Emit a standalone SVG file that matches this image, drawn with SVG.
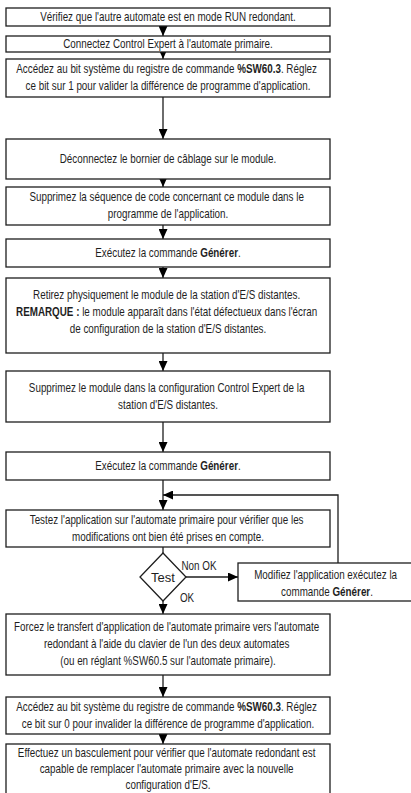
<svg xmlns="http://www.w3.org/2000/svg" width="411" height="793" viewBox="0 0 411 793">
  <style>
    .box { fill: #fff; stroke: #1e1e1e; stroke-width: 1.3; }
    .t { font-family: "Liberation Sans", Arial, sans-serif; font-size: 12px; fill: #1e1e1e; text-anchor: middle; }
    .b { font-weight: bold; }
    .conn { fill: none; stroke: #1e1e1e; stroke-width: 1.3; }
    .arr { marker-end: url(#head); }
  </style>
  <defs>
    <marker id="head" viewBox="0 0 10 10" refX="10" refY="5" markerWidth="10" markerHeight="9" markerUnits="userSpaceOnUse" orient="auto" preserveAspectRatio="none">
      <path d="M0,0 L10,5 L0,10 z" fill="#000"/>
    </marker>
  </defs>
  <rect width="411" height="793" fill="#fff"/>

  <!-- connectors -->
  <g id="connectors">
    <line class="conn arr" x1="163" y1="26" x2="163" y2="36"/>
    <line class="conn arr" x1="163" y1="52" x2="163" y2="59"/>
    <line class="conn arr" x1="163" y1="97" x2="163" y2="139"/>
    <line class="conn arr" x1="163" y1="179" x2="163" y2="187"/>
    <line class="conn arr" x1="163" y1="225" x2="163" y2="239"/>
    <line class="conn arr" x1="163" y1="267" x2="163" y2="278"/>
    <line class="conn arr" x1="163" y1="353" x2="163" y2="371"/>
    <line class="conn arr" x1="163" y1="422" x2="163" y2="452"/>
    <line class="conn arr" x1="163" y1="480" x2="163" y2="510"/>
    <polyline class="conn arr" points="338,563 338,495 163,495"/>
    <line class="conn" x1="163" y1="547" x2="163" y2="553"/>
    <line class="conn arr" x1="186" y1="577" x2="238" y2="577"/>
    <line class="conn arr" x1="163" y1="601" x2="163" y2="614"/>
    <line class="conn arr" x1="163" y1="675" x2="163" y2="697"/>
    <line class="conn arr" x1="163" y1="734" x2="163" y2="744"/>
    <text class="t" transform="translate(199 570) scale(.82 1)">Non OK</text>
    <text class="t" transform="translate(187 602) scale(.82 1)">OK</text>
  </g>

  <g id="n1">
    <rect class="box" x="6" y="8" width="324" height="18"/>
    <text class="t" transform="translate(168 21) scale(.82 1)">Vérifiez que l'autre automate est en mode RUN redondant.</text>
  </g>
  <g id="n2">
    <rect class="box" x="6" y="36" width="324" height="16"/>
    <text class="t" transform="translate(168 48) scale(.82 1)">Connectez Control Expert à l'automate primaire.</text>
  </g>
  <g id="n3">
    <rect class="box" x="6" y="59" width="324" height="38"/>
    <text class="t" transform="translate(168 73) scale(.82 1)">
      <tspan x="0">Accédez au bit système du registre de commande <tspan class="b">%SW60.3</tspan>. Réglez</tspan>
      <tspan x="0" dy="17">ce bit sur 1 pour valider la différence de programme d'application.</tspan>
    </text>
  </g>
  <g id="n4">
    <rect class="box" x="6" y="139" width="324" height="40"/>
    <text class="t" transform="translate(168 163) scale(.82 1)">Déconnectez le bornier de câblage sur le module.</text>
  </g>
  <g id="n5">
    <rect class="box" x="6" y="187" width="324" height="38"/>
    <text class="t" transform="translate(168 201) scale(.82 1)">
      <tspan x="0">Supprimez la séquence de code concernant ce module dans le</tspan>
      <tspan x="0" dy="17">programme de l'application.</tspan>
    </text>
  </g>
  <g id="n6">
    <rect class="box" x="6" y="239" width="324" height="28"/>
    <text class="t" transform="translate(168 257) scale(.82 1)">Exécutez la commande <tspan class="b">Générer</tspan>.</text>
  </g>
  <g id="n7">
    <rect class="box" x="6" y="278" width="324" height="75"/>
    <text class="t" transform="translate(168 299) scale(.82 1)">
      <tspan x="0">Retirez physiquement le module de la station d'E/S distantes.</tspan>
      <tspan x="0" dy="17"><tspan class="b">REMARQUE :</tspan> le module apparaît dans l'état défectueux dans l'écran</tspan>
      <tspan x="0" dy="17">de configuration de la station d'E/S distantes.</tspan>
    </text>
  </g>
  <g id="n8">
    <rect class="box" x="6" y="371" width="324" height="51"/>
    <text class="t" transform="translate(168 392) scale(.82 1)">
      <tspan x="0">Supprimez le module dans la configuration Control Expert de la</tspan>
      <tspan x="0" dy="17">station d'E/S distantes.</tspan>
    </text>
  </g>
  <g id="n9">
    <rect class="box" x="6" y="452" width="324" height="28"/>
    <text class="t" transform="translate(168 470) scale(.82 1)">Exécutez la commande <tspan class="b">Générer</tspan>.</text>
  </g>
  <g id="n10">
    <rect class="box" x="6" y="510" width="324" height="37"/>
    <text class="t" transform="translate(168 524) scale(.82 1)">
      <tspan x="0">Testez l'application sur l'automate primaire pour vérifier que les</tspan>
      <tspan x="0" dy="17">modifications ont bien été prises en compte.</tspan>
    </text>
  </g>
  <g id="test">
    <polygon class="box" points="163,553 186,577 163,601 140,577"/>
    <text class="t" x="163" y="581.5" style="font-size:13px">Test</text>
  </g>
  <g id="n11">
    <rect class="box" x="238" y="563" width="180" height="38"/>
    <text class="t" transform="translate(327 579) scale(.82 1)">
      <tspan x="0">Modifiez l'application exécutez la</tspan>
      <tspan x="0" dy="17">commande <tspan class="b">Générer</tspan>.</tspan>
    </text>
  </g>
  <g id="n12">
    <rect class="box" x="6" y="614" width="324" height="61"/>
    <text class="t" transform="translate(168 631) scale(.82 1)">
      <tspan x="0">Forcez le transfert d'application de l'automate primaire vers l'automate</tspan>
      <tspan x="0" dy="17">redondant à l'aide du clavier de l'un des deux automates</tspan>
      <tspan x="0" dy="17">(ou en réglant %SW60.5 sur l'automate primaire).</tspan>
    </text>
  </g>
  <g id="n13">
    <rect class="box" x="6" y="697" width="324" height="37"/>
    <text class="t" transform="translate(168 711) scale(.82 1)">
      <tspan x="0">Accédez au bit système du registre de commande <tspan class="b">%SW60.3</tspan>. Réglez</tspan>
      <tspan x="0" dy="17">ce bit sur 0 pour invalider la différence de programme d'application.</tspan>
    </text>
  </g>
  <g id="n14">
    <rect class="box" x="6" y="744" width="324" height="60"/>
    <text class="t" transform="translate(168 757) scale(.82 1)">
      <tspan x="0">Effectuez un basculement pour vérifier que l'automate redondant est</tspan>
      <tspan x="0" dy="16.5">capable de remplacer l'automate primaire avec la nouvelle</tspan>
      <tspan x="0" dy="16">configuration d'E/S.</tspan>
    </text>
  </g>
</svg>
